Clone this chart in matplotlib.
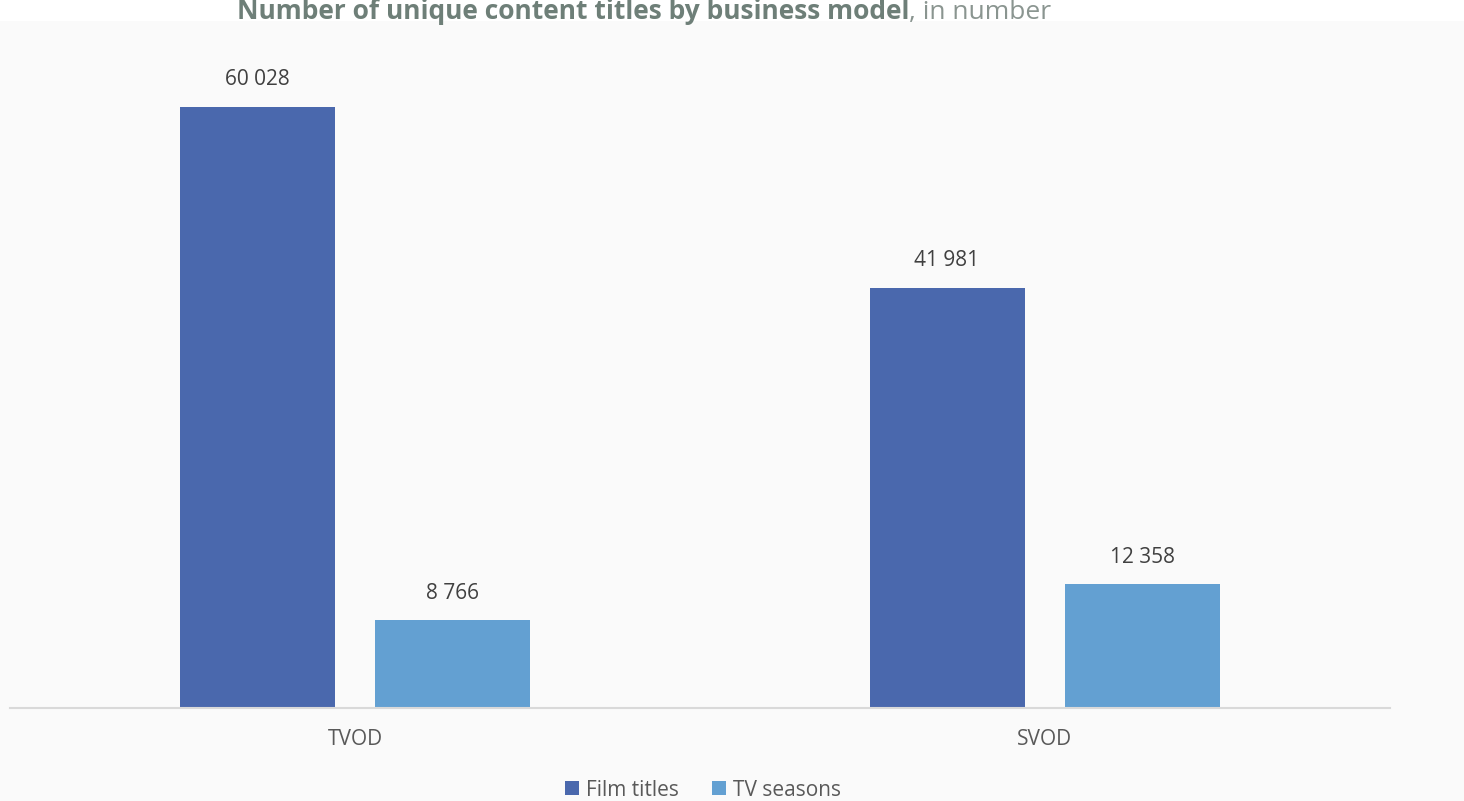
import matplotlib
matplotlib.use("Agg")
import matplotlib.pyplot as plt
import numpy as np

plt.rcParams['font.family'] = ['Open Sans', 'DejaVu Sans']

categories = ['TVOD', 'SVOD']
film_titles = [60028, 41981]
tv_seasons = [8766, 12358]
series_names = ['Film titles', 'TV seasons']
colors = ['#4a68ad', '#63a0d2']

def fmt(v):
    return f'{v:,}'.replace(',', ' ')

fig = plt.figure(figsize=(14.64, 8.01), dpi=100, facecolor='#fafafa')
ax = fig.add_axes([10/1464, 93/801, 1380/1464, 688/801])
ax.set_facecolor('#fafafa')

x = np.arange(len(categories))
w = 0.2246
off = 0.142
b1 = ax.bar(x - off, film_titles, w, color=colors[0], label=series_names[0])
b2 = ax.bar(x + off, tv_seasons, w, color=colors[1], label=series_names[1])

for bars, vals in ((b1, film_titles), (b2, tv_seasons)):
    for r, v in zip(bars, vals):
        ax.annotate(fmt(v), (r.get_x() + r.get_width()/2, v), xytext=(0, 12),
                    textcoords='offset points', ha='center', va='bottom',
                    fontsize=15, color='#404040')

ax.set_xlim(-0.5, 1.5)
ax.set_ylim(0, 68720)
ax.set_yticks([])
ax.set_xticks(x)
ax.set_xticklabels(categories, fontsize=15, color='#595959')
ax.tick_params(axis='x', length=0, pad=15)
for s in ['top', 'right', 'left']:
    ax.spines[s].set_visible(False)
ax.spines['bottom'].set_color('#d9d9d9')
ax.spines['bottom'].set_linewidth(1.5)

leg = fig.legend(loc='center', bbox_to_anchor=(703/1464, 1 - 790/801), ncol=2,
                 frameon=False, fontsize=15, handlelength=0.65, handleheight=0.65,
                 columnspacing=1.6, handletextpad=0.35)
for t in leg.get_texts():
    t.set_color('#595959')

# two-part title at the very top
fig.patches.append(plt.Rectangle((0, 1 - 21/801), 1, 21/801, transform=fig.transFigure,
                                 facecolor='white', edgecolor='none', zorder=0))
t1 = fig.text(0, 1 - 19/801, 'Number of unique content titles by business model',
              fontsize=19, fontweight='bold', color='#6e7f78', va='baseline')
t2 = fig.text(0, 1 - 19/801, ', in number', fontsize=19, color='#8a9590', va='baseline')
fig.canvas.draw()
r = fig.canvas.get_renderer()
w1 = t1.get_window_extent(r).width
w2 = t2.get_window_extent(r).width
start = 644 - (w1 + w2) / 2
t1.set_x(start / 1464)
t2.set_x((start + w1) / 1464)

fig.savefig('out.png', dpi=100, facecolor=fig.get_facecolor())
